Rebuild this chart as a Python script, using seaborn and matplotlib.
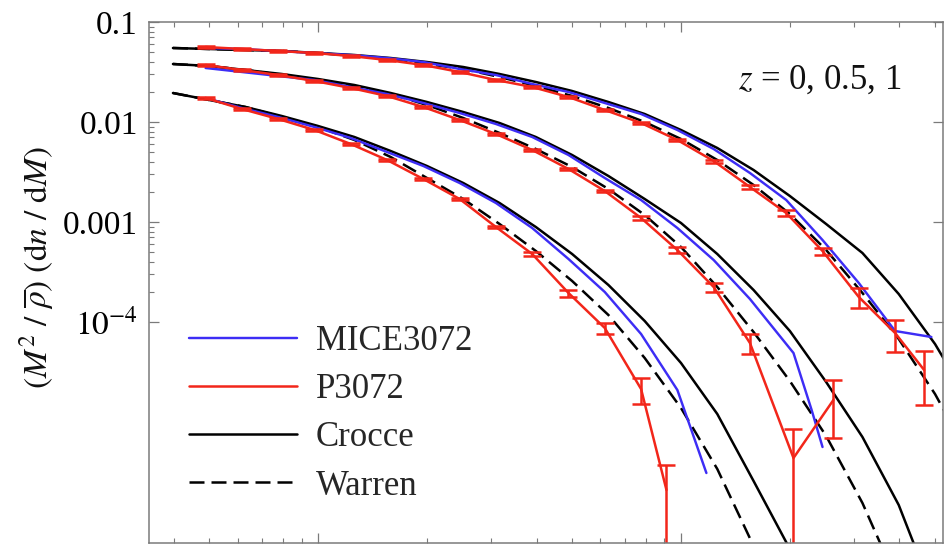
import numpy as np
import pandas as pd
import matplotlib
matplotlib.use("Agg")
import matplotlib.pyplot as plt
import seaborn as sns
from matplotlib.lines import Line2D
from matplotlib.ticker import FixedLocator, FixedFormatter, LogLocator, NullFormatter

# ---------------- data (log10 M, log10 of (M^2/rhobar) dn/dM) ----------------
# P3072 simulation (red, with error bars = relative 1-sigma)
P_LOGM_Z1 = [12.69, 12.79, 12.89, 12.99, 13.09, 13.19, 13.29, 13.39, 13.49, 13.59, 13.69, 13.79, 13.89, 13.96]
P_LOGF_Z1 = [-1.76, -1.87, -1.97, -2.08, -2.22, -2.38, -2.57, -2.77, -3.05, -3.32, -3.71, -4.06, -4.67, -5.68]
P_ERR_Z1 = [0.02, 0.02, 0.02, 0.02, 0.02, 0.02, 0.02, 0.02, 0.03, 0.05, 0.08, 0.13, 0.30, 0.78]

P_LOGM_Z05 = [12.69, 12.79, 12.89, 12.99, 13.09, 13.19, 13.29, 13.39, 13.49, 13.59, 13.69, 13.79, 13.89, 13.99,
              14.09, 14.19, 14.31, 14.42]
P_LOGF_Z05 = [-1.43, -1.48, -1.53, -1.59, -1.66, -1.74, -1.85, -1.98, -2.12, -2.28, -2.47, -2.69, -2.96, -3.28,
              -3.65, -4.21, -5.36, -4.78]
P_ERR_Z05 = [0.02, 0.02, 0.02, 0.02, 0.02, 0.02, 0.02, 0.02, 0.02, 0.02, 0.025, 0.03, 0.04, 0.06,
             0.10, 0.23, 0.95, 0.58]

P_LOGM_Z0 = [12.69, 12.79, 12.89, 12.99, 13.09, 13.19, 13.29, 13.39, 13.49, 13.59, 13.69, 13.79, 13.89, 13.99,
             14.09, 14.19, 14.29, 14.39, 14.49, 14.59, 14.67]
P_LOGF_Z0 = [-1.25, -1.27, -1.29, -1.31, -1.34, -1.38, -1.43, -1.50, -1.58, -1.65, -1.75, -1.88, -2.01, -2.18,
             -2.39, -2.65, -2.91, -3.29, -3.75, -4.11, -4.48]
P_ERR_Z0 = [0.02, 0.02, 0.02, 0.02, 0.02, 0.02, 0.02, 0.02, 0.02, 0.02, 0.02, 0.02, 0.025, 0.03,
            0.035, 0.045, 0.06, 0.08, 0.22, 0.36, 0.55]

# MICE3072 simulation (blue)
M_LOGM_Z1 = [12.69, 12.79, 12.89, 12.99, 13.09, 13.19, 13.29, 13.39, 13.49, 13.59, 13.69, 13.79, 13.89, 13.99, 14.07]
M_LOGF_Z1 = [-1.76, -1.86, -1.95, -2.05, -2.16, -2.30, -2.44, -2.61, -2.81, -3.06, -3.37, -3.70, -4.12, -4.68, -5.51]

M_LOGM_Z05 = [12.69, 12.79, 12.89, 12.99, 13.09, 13.19, 13.29, 13.39, 13.49, 13.59, 13.69, 13.79, 13.89, 13.99,
              14.09, 14.19, 14.31, 14.36, 14.39]
M_LOGF_Z05 = [-1.46, -1.50, -1.54, -1.58, -1.65, -1.72, -1.81, -1.91, -2.02, -2.15, -2.33, -2.56, -2.78, -3.06,
              -3.38, -3.77, -4.31, -4.88, -5.25]

M_LOGM_Z0 = [12.69, 12.79, 12.89, 12.99, 13.09, 13.19, 13.29, 13.39, 13.49, 13.59, 13.69, 13.79, 13.89, 13.99,
             14.09, 14.19, 14.29, 14.39, 14.49, 14.59, 14.69]
M_LOGF_Z0 = [-1.26, -1.27, -1.29, -1.31, -1.33, -1.36, -1.40, -1.47, -1.53, -1.62, -1.70, -1.81, -1.92, -2.08,
             -2.27, -2.51, -2.78, -3.18, -3.61, -4.09, -4.15]

# Crocce fit (black solid)
C_LOGM_Z1 = [12.6, 12.7, 12.8, 12.9, 13.0, 13.1, 13.2, 13.3, 13.4, 13.5, 13.6, 13.7, 13.8, 13.9, 14.0, 14.1, 14.2, 14.3]
C_LOGF_Z1 = [-1.71, -1.78, -1.85, -1.94, -2.04, -2.15, -2.29, -2.44, -2.61, -2.81, -3.05, -3.32, -3.63, -3.99,
             -4.41, -4.92, -5.59, -6.27]
C_LOGM_Z05 = [12.6, 12.7, 12.8, 12.9, 13.0, 13.1, 13.2, 13.3, 13.4, 13.5, 13.6, 13.7, 13.8, 13.9, 14.0, 14.1, 14.2,
              14.3, 14.4, 14.5, 14.6, 14.7]
C_LOGF_Z05 = [-1.42, -1.44, -1.48, -1.52, -1.57, -1.63, -1.71, -1.80, -1.90, -2.01, -2.15, -2.33, -2.54, -2.77,
              -3.01, -3.32, -3.68, -4.09, -4.60, -5.15, -5.83, -6.76]
C_LOGM_Z0 = [12.6, 12.7, 12.8, 12.9, 13.0, 13.1, 13.2, 13.3, 13.4, 13.5, 13.6, 13.7, 13.8, 13.9, 14.0, 14.1, 14.2,
             14.3, 14.4, 14.5, 14.6, 14.7, 14.8]
C_LOGF_Z0 = [-1.26, -1.27, -1.28, -1.29, -1.31, -1.33, -1.36, -1.40, -1.45, -1.52, -1.60, -1.69, -1.80, -1.92,
             -2.08, -2.26, -2.48, -2.74, -3.02, -3.31, -3.72, -4.22, -4.83]

# Warren fit (black dashed)
W_LOGM_Z1 = [12.6, 12.7, 12.8, 12.9, 13.0, 13.1, 13.2, 13.3, 13.4, 13.5, 13.6, 13.7, 13.8, 13.9, 14.0, 14.1, 14.2]
W_LOGF_Z1 = [-1.71, -1.78, -1.85, -1.95, -2.05, -2.18, -2.35, -2.56, -2.77, -3.02, -3.29, -3.59, -3.93, -4.36,
             -4.86, -5.47, -6.24]
W_LOGM_Z05 = [12.6, 12.7, 12.8, 12.9, 13.0, 13.1, 13.2, 13.3, 13.4, 13.5, 13.6, 13.7, 13.8, 13.9, 14.0, 14.1, 14.2,
              14.3, 14.4, 14.5, 14.6]
W_LOGF_Z05 = [-1.42, -1.44, -1.48, -1.53, -1.58, -1.64, -1.72, -1.83, -1.96, -2.11, -2.27, -2.45, -2.67, -2.93,
              -3.25, -3.65, -4.10, -4.59, -5.14, -5.81, -6.63]
W_LOGM_Z0 = [12.6, 12.7, 12.8, 12.9, 13.0, 13.1, 13.2, 13.3, 13.4, 13.5, 13.6, 13.7, 13.8, 13.9, 14.0, 14.1, 14.2,
             14.3, 14.4, 14.5, 14.6, 14.7, 14.8]
W_LOGF_Z0 = [-1.26, -1.27, -1.28, -1.29, -1.31, -1.34, -1.37, -1.42, -1.47, -1.55, -1.64, -1.74, -1.86, -2.00,
             -2.17, -2.38, -2.63, -2.92, -3.28, -3.71, -4.17, -4.72, -5.38]

Y_TICKS = [1e-4, 1e-3, 1e-2, 1e-1]
Y_TICK_LABELS = [r"$10^{-4}$", "0.001", "0.01", "0.1"]
LEGEND_LABELS = ["MICE3072", "P3072", "Crocce", "Warren"]
ANNOTATION = r"$z$ = 0, 0.5, 1"
Y_LABEL = r"$(M^2\ /\ \overline{\rho})\ (\mathrm{d}n\ /\ \mathrm{d}M)$"

# ---------------- style ----------------
sns.set_theme(style="ticks")
plt.rcParams["font.family"] = ["Liberation Serif", "DejaVu Serif"]
plt.rcParams["mathtext.fontset"] = "stix"

BLUE = "#3d2df5"
RED = "#f2261a"
BLACK = "#000000"
AXCOL = "#7a7a7a"
LW = 1.8
BLW = 1.75
DASH = (6, 2.8)

fig = plt.figure(figsize=(9.44, 5.44), dpi=100)
ax = fig.add_axes([149 / 944, 1 / 544, 794 / 944, 521 / 544])
ax.set_xscale("log")
ax.set_yscale("log")


def frame(logm, logf, series):
    return pd.DataFrame({"M": 10 ** np.asarray(logm, float),
                         "F": 10 ** np.asarray(logf, float),
                         "s": series})


theory = [
    (C_LOGM_Z1, C_LOGF_Z1, "-"), (C_LOGM_Z05, C_LOGF_Z05, "-"), (C_LOGM_Z0, C_LOGF_Z0, "-"),
    (W_LOGM_Z1, W_LOGF_Z1, "--"), (W_LOGM_Z05, W_LOGF_Z05, "--"), (W_LOGM_Z0, W_LOGF_Z0, "--"),
]
for lm, lf, ls in theory:
    d = frame(lm, lf, "t")
    sns.lineplot(data=d, x="M", y="F", ax=ax, color=BLACK, lw=LW, sort=False,
                 estimator=None, legend=False)
    line = ax.lines[-1]
    if ls == "--":
        line.set_dashes(DASH)

for lm, lf in [(M_LOGM_Z1, M_LOGF_Z1), (M_LOGM_Z05, M_LOGF_Z05), (M_LOGM_Z0, M_LOGF_Z0)]:
    d = frame(lm, lf, "m")
    sns.lineplot(data=d, x="M", y="F", ax=ax, color=BLUE, lw=BLW, sort=False,
                 estimator=None, legend=False)

for lm, lf, er in [(P_LOGM_Z1, P_LOGF_Z1, P_ERR_Z1), (P_LOGM_Z05, P_LOGF_Z05, P_ERR_Z05),
                   (P_LOGM_Z0, P_LOGF_Z0, P_ERR_Z0)]:
    d = frame(lm, lf, "p")
    d["err"] = d["F"] * np.asarray(er)
    sns.lineplot(data=d, x="M", y="F", ax=ax, color=RED, lw=LW, sort=False,
                 estimator=None, legend=False)
    ax.errorbar(d["M"], d["F"], yerr=d["err"], fmt="none", ecolor=RED,
                elinewidth=LW, capsize=6.5, capthick=LW)

ax.set_xlim(10 ** 12.534, 10 ** 14.722)
ax.set_ylim(10 ** -6.21, 0.1)
ax.set_xlabel("")
ax.set_ylabel("")

# ticks
ax.xaxis.set_major_locator(LogLocator(base=10, numticks=10))
ax.xaxis.set_minor_locator(LogLocator(base=10, subs=np.arange(2, 10), numticks=20))
ax.xaxis.set_major_formatter(NullFormatter())
ax.xaxis.set_minor_formatter(NullFormatter())
ax.yaxis.set_major_locator(FixedLocator(Y_TICKS))
ax.yaxis.set_major_formatter(FixedFormatter(Y_TICK_LABELS))
minor_y = [k * 10.0 ** e for e in (-4, -3, -2) for k in range(2, 10)]
ax.yaxis.set_minor_locator(FixedLocator(minor_y))
ax.yaxis.set_minor_formatter(NullFormatter())

ax.tick_params(which="both", direction="in", top=True, right=True, color=AXCOL,
               labelbottom=False)
ax.tick_params(which="major", length=7.5, width=0.9)
ax.tick_params(which="minor", length=3.8, width=0.8)
ax.tick_params(axis="y", which="minor", right=False)
ax.tick_params(axis="y", which="major", labelsize=24, pad=8, labelcolor="black")
for sp in ax.spines.values():
    sp.set_color(AXCOL)
    sp.set_linewidth(1.1)

# annotation
ax.text(0.948, 0.889, ANNOTATION, transform=ax.transAxes, ha="right", va="center",
        fontsize=25, color="#111111")

# y label
fig.text(37 / 944, 1 - 268 / 544, Y_LABEL, rotation=90, ha="center", va="center",
         fontsize=24, color="#111111")

# legend
handles = [Line2D([], [], color=BLUE, lw=BLW),
           Line2D([], [], color=RED, lw=LW),
           Line2D([], [], color=BLACK, lw=LW),
           Line2D([], [], color=BLACK, lw=LW, dashes=DASH)]
ax.legend(handles, LEGEND_LABELS, loc="upper left", bbox_to_anchor=(0.0504, 0.419),
          frameon=False, fontsize=25, handlelength=3.1, handletextpad=0.55,
          labelspacing=0.44, borderaxespad=0, borderpad=0)

fig.savefig("out.png", dpi=100)
